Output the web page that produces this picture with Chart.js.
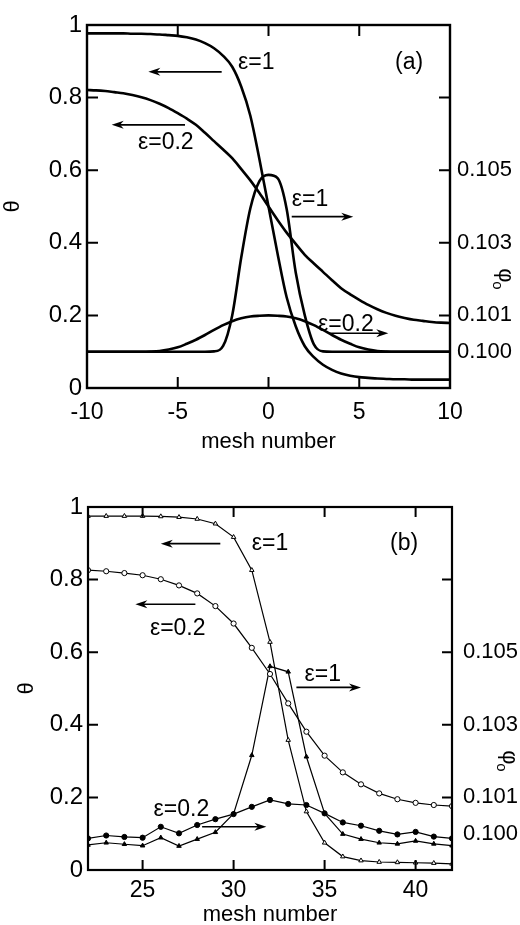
<!DOCTYPE html>
<html>
<head>
<meta charset="utf-8">
<script src="https://cdn.jsdelivr.net/npm/chart.js@4.4.1/dist/chart.umd.min.js"></script>
<style>
  html, body { margin:0; padding:0; background:#fff; width:520px; height:925px; overflow:hidden; }
  #wa { position:absolute; left:0; top:0; width:520px; height:460px; }
  #wb { position:absolute; left:0; top:460px; width:520px; height:480px; }
</style>
</head>
<body>
<div id="wa"><canvas id="ca" width="520" height="460"></canvas></div>
<div id="wb"><canvas id="cb" width="520" height="480"></canvas></div>
<script>
// ---------------- DATA ----------------
// Panel (a): continuous profiles
const meshA = [-10,-9.5,-9,-8.5,-8,-7.5,-7,-6.5,-6,-5.5,-5,-4.5,-4,-3.5,-3,-2.5,-2,-1.5,-1,-0.5,0,
               0.5,1,1.5,2,2.5,3,3.5,4,4.5,5,5.5,6,6.5,7,7.5,8,8.5,9,9.5,10];
const thetaEps1A = [0.977,0.977,0.977,0.977,0.977,0.976,0.976,0.975,0.974,0.972,0.970,0.966,0.960,0.950,0.936,0.915,0.885,0.830,0.750,0.630,0.500,
                    0.370,0.250,0.170,0.115,0.085,0.064,0.050,0.040,0.034,0.030,0.028,0.026,0.025,0.024,0.024,0.023,0.023,0.023,0.023,0.023];
const thetaEps02A = [0.821,0.820,0.818,0.815,0.812,0.807,0.801,0.793,0.783,0.771,0.757,0.742,0.725,0.703,0.680,0.657,0.633,0.603,0.572,0.537,0.500,
                     0.463,0.428,0.397,0.367,0.343,0.320,0.297,0.275,0.258,0.243,0.229,0.217,0.207,0.199,0.193,0.188,0.185,0.182,0.180,0.179];
const phiEps1A = [0.1000,0.1000,0.1000,0.1000,0.1000,0.1000,0.1000,0.1000,0.1000,0.1000,0.1000,0.1000,0.1000,0.1000,
                  0.10001,0.10016,0.10100,0.10260,0.10395,0.10470,0.10487,0.10478,0.10393,0.10218,0.10100,0.10020,0.10001,
                  0.1000,0.1000,0.1000,0.1000,0.1000,0.1000,0.1000,0.1000,0.1000,0.1000,0.1000,0.1000,0.1000,0.1000];
const phiEps02A = [0.10000,0.10000,0.10000,0.10000,0.10000,0.10000,0.10000,0.100005,0.10002,0.10006,0.10012,0.10022,0.10033,0.10046,0.10060,0.10073,0.10084,0.10092,0.10097,0.10099,0.10100,
                   0.10099,0.10097,0.10092,0.10084,0.10073,0.10060,0.10046,0.10033,0.10022,0.10012,0.10006,0.10002,0.100005,0.10000,0.10000,0.10000,0.10000,0.10000,0.10000,0.10000];

// Panel (b): discrete mesh values
const meshB = [22,23,24,25,26,27,28,29,30,31,32,33,34,35,36,37,38,39,40,41,42];
const thetaEps1B = [0.975,0.975,0.975,0.975,0.974,0.972,0.967,0.954,0.917,0.826,0.628,0.358,0.161,0.075,0.037,0.026,0.022,0.021,0.020,0.019,0.017];
const thetaEps02B = [0.826,0.823,0.818,0.812,0.801,0.784,0.762,0.727,0.679,0.612,0.540,0.459,0.381,0.315,0.269,0.236,0.211,0.195,0.185,0.179,0.176];
const phiEps1B = [0.09969,0.09975,0.09971,0.09967,0.09989,0.09966,0.09985,0.10004,0.10055,0.10216,0.10461,0.10446,0.10212,0.10056,0.09999,0.09985,0.09975,0.09972,0.09980,0.09972,0.09967];
const phiEps02B = [0.09987,0.09995,0.09991,0.09989,0.10019,0.10001,0.10024,0.10040,0.10054,0.10074,0.10093,0.10082,0.10079,0.10056,0.10031,0.10022,0.10008,0.09998,0.10005,0.09992,0.09987];

// Axis ticks
const thetaTicks = [0, 0.2, 0.4, 0.6, 0.8, 1];
const phiTicks = [0.100, 0.101, 0.103, 0.105];
const xTicksA = [-10, -5, 0, 5, 10];
const xTicksB = [25, 30, 35, 40];

// Annotations (data coordinates: [x, theta, text])
const notesA = [[-1.68,0.895,'ε=1'],[-7.19,0.675,'ε=0.2'],[1.28,0.518,'ε=1'],[2.73,0.174,'ε=0.2'],[6.97,0.895,'(a)']];
const arrowsA = [[-2.58,0.871,-6.62,0.871],[-4.6,0.725,-8.64,0.725],[1.28,0.472,4.67,0.472],[3.3,0.151,6.6,0.151]];
const notesB = [[31.0,0.899,'ε=1'],[38.6,0.899,'(b)'],[25.4,0.665,'ε=0.2'],[33.9,0.537,'ε=1'],[25.6,0.165,'ε=0.2']];
const arrowsB = [[29.27,0.899,26.0,0.899],[27.9,0.732,24.6,0.732],[33.45,0.503,37.0,0.503],[28.27,0.119,31.8,0.119]];

// ---------------- RENDER ----------------
const FONT = "'Liberation Sans', Arial, sans-serif";
const F22 = {family: FONT, size: 22};
const F23 = {family: FONT, size: 23};
const F24 = {family: FONT, size: 24};
const BLACK = '#000';

function pts(xs, ys) { return xs.map((x, i) => ({x: x, y: ys[i]})); }

function decor(notes, arrows, opt) {
  return {
    id: 'decor',
    afterDatasetsDraw(chart) {
      const ctx = chart.ctx, a = chart.chartArea, sx = chart.scales.x, sy = chart.scales.y;
      ctx.save();
      ctx.strokeStyle = BLACK; ctx.fillStyle = BLACK;
      ctx.lineWidth = opt.frame;
      ctx.strokeRect(a.left, a.top, a.right - a.left, a.bottom - a.top);
      ctx.lineWidth = opt.tickW;
      const L = opt.tickLen;
      ctx.beginPath();
      sx.ticks.forEach(t => {
        if (t.value <= sx.min || t.value >= sx.max) return;
        const p = sx.getPixelForValue(t.value);
        ctx.moveTo(p, a.bottom); ctx.lineTo(p, a.bottom - L);
        ctx.moveTo(p, a.top); ctx.lineTo(p, a.top + L);
      });
      sy.ticks.forEach(t => {
        if (t.value <= sy.min || t.value >= sy.max) return;
        const p = sy.getPixelForValue(t.value);
        ctx.moveTo(a.left, p); ctx.lineTo(a.left + L, p);
        ctx.moveTo(a.right, p); ctx.lineTo(a.right - L, p);
      });
      ctx.stroke();
      // arrows
      ctx.lineWidth = opt.arrowW;
      arrows.forEach(ar => {
        const x0 = sx.getPixelForValue(ar[0]), y0 = sy.getPixelForValue(ar[1]);
        const x1 = sx.getPixelForValue(ar[2]), y1 = sy.getPixelForValue(ar[3]);
        const dir = Math.sign(x1 - x0);
        ctx.beginPath(); ctx.moveTo(x0, y0); ctx.lineTo(x1 - dir * 6, y1); ctx.stroke();
        ctx.beginPath();
        ctx.moveTo(x1, y1);
        ctx.lineTo(x1 - dir * opt.headL, y1 - opt.headW);
        ctx.lineTo(x1 - dir * opt.headL * 0.7, y1);
        ctx.lineTo(x1 - dir * opt.headL, y1 + opt.headW);
        ctx.closePath(); ctx.fill();
      });
      // texts
      ctx.font = '23px ' + FONT;
      ctx.textAlign = 'left'; ctx.textBaseline = 'middle';
      notes.forEach(n => {
        ctx.fillText(n[2], sx.getPixelForValue(n[0]), sy.getPixelForValue(n[1]));
      });
      // right-axis title phi_o, rotated clockwise
      ctx.save();
      ctx.translate(a.right + opt.phiDx, sy.getPixelForValue(0.31));
      ctx.rotate(Math.PI / 2);
      ctx.textAlign = 'center'; ctx.textBaseline = 'middle';
      ctx.font = '22px ' + FONT;
      ctx.fillText('φ', 0, 0);
      ctx.font = '15px ' + FONT;
      ctx.fillText('o', 10, 8);
      ctx.restore();
      ctx.restore();
    }
  };
}

function makeChart(id, cfg) {
  const curve = (data, w) => ({data, borderColor: BLACK, borderWidth: w, pointRadius: 0, fill: false,
                               cubicInterpolationMode: 'monotone'});
  let datasets;
  if (cfg.smooth) {
    datasets = [
      Object.assign(curve(pts(meshA, thetaEps1A), 2.6), {yAxisID: 'y'}),
      Object.assign(curve(pts(meshA, thetaEps02A), 2.6), {yAxisID: 'y'}),
      Object.assign(curve(pts(meshA, phiEps1A), 2.6), {yAxisID: 'y2'}),
      Object.assign(curve(pts(meshA, phiEps02A), 2.6), {yAxisID: 'y2'})
    ];
  } else {
    const mk = (data, axis, style, fillc) => ({data, yAxisID: axis, borderColor: BLACK, borderWidth: 1.2, tension: 0,
      pointStyle: style, pointRadius: 2.6, pointBorderWidth: 1, pointBorderColor: BLACK, pointBackgroundColor: fillc, fill: false});
    datasets = [
      mk(pts(meshB, thetaEps1B), 'y', 'triangle', '#fff'),
      mk(pts(meshB, thetaEps02B), 'y', 'circle', '#fff'),
      mk(pts(meshB, phiEps1B), 'y2', 'triangle', BLACK),
      mk(pts(meshB, phiEps02B), 'y2', 'circle', BLACK)
    ];
  }
  return new Chart(document.getElementById(id), {
    type: 'line',
    data: {datasets},
    options: {
      responsive: false, animation: false, devicePixelRatio: 1,
      layout: {padding: {top: cfg.top, left: 0, right: 0, bottom: 0}},
      plugins: {legend: {display: false}, tooltip: {enabled: false}},
      scales: {
        x: {type: 'linear', min: cfg.xmin, max: cfg.xmax,
            afterBuildTicks: s => { s.ticks = cfg.xticks.map(v => ({value: v})); },
            ticks: {font: F23, color: BLACK, padding: cfg.xpad, maxRotation: 0, autoSkip: false},
            grid: {display: false, drawTicks: false}, border: {display: false},
            title: {display: true, text: 'mesh number', font: F22, color: BLACK, padding: {top: 0, bottom: cfg.xtitlePad}},
            afterFit: s => { s.height = cfg.xh; }},
        y: {type: 'linear', position: 'left', min: 0, max: 1,
            afterBuildTicks: s => { s.ticks = thetaTicks.map(v => ({value: v})); },
            ticks: {font: F24, color: BLACK, padding: 5, autoSkip: false, callback: v => String(Number(Number(v).toFixed(1)))},
            grid: {display: false, drawTicks: false}, border: {display: false},
            title: {display: true, text: 'θ', font: F22, color: BLACK, padding: {top: cfg.ytitlePad, bottom: 0}},
            afterFit: s => { s.width = cfg.yw; }},
        y2: {type: 'linear', position: 'right', min: 0.099, max: 0.109,
            afterBuildTicks: s => { s.ticks = phiTicks.map(v => ({value: v})); },
            ticks: {font: F22, color: BLACK, padding: cfg.y2pad, autoSkip: false, callback: v => Number(v).toFixed(3)},
            grid: {display: false, drawTicks: false}, border: {display: false},
            title: {display: false},
            afterFit: s => { s.width = cfg.y2w; }}
      }
    },
    plugins: [decor(cfg.notes, cfg.arrows, cfg.deco)]
  });
}

makeChart('ca', {smooth: true, top: 25, xmin: -10, xmax: 10, xticks: xTicksA, xpad: 11, xh: 72, xtitlePad: 5,
  yw: 87, ytitlePad: 0, y2w: 70, y2pad: 7, notes: notesA, arrows: arrowsA,
  deco: {frame: 2.4, tickW: 2, tickLen: 11, arrowW: 1.6, headL: 12, headW: 4, phiDx: 55}});
makeChart('cb', {smooth: false, top: 47, xmin: 22, xmax: 42, xticks: xTicksB, xpad: 7, xh: 70, xtitlePad: 12,
  yw: 88, ytitlePad: 14, y2w: 68, y2pad: 11, notes: notesB, arrows: arrowsB,
  deco: {frame: 2.2, tickW: 2, tickLen: 10, arrowW: 1.6, headL: 12, headW: 4, phiDx: 57}});
</script>
</body>
</html>
